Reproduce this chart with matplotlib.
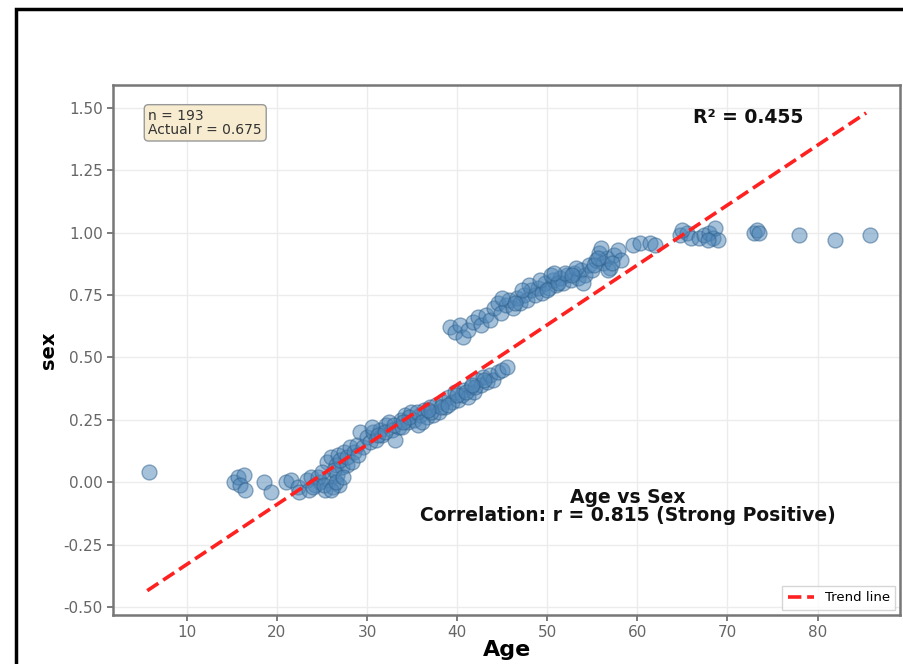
import numpy as np
import matplotlib
matplotlib.use('Agg')
import matplotlib.pyplot as plt
from matplotlib.patches import Rectangle

# ages / sex values
age_low = [5.8, 15.2, 15.7, 16.3, 15.9, 16.4, 18.6, 19.3, 21.0, 21.6, 22.3, 22.5,
           23.3, 23.8, 24.2, 24.8, 25.3, 25.8, 26.2, 26.7, 26.9, 23.6, 24.5, 25.5,
           26.0, 26.5, 27.2, 26.3, 27.8, 25.0, 26.8, 24.0, 25.2, 26.0, 26.6, 27.3]
sex_low = [0.04, 0.00, 0.02, 0.03, -0.01, -0.03, 0.00, -0.04, 0.00, 0.01, -0.02, -0.04,
           0.01, 0.02, -0.01, 0.00, -0.03, 0.01, -0.02, 0.03, -0.01, -0.03, 0.02, 0.08,
           0.10, 0.07, 0.06, 0.05, 0.07, 0.04, 0.11, -0.02, -0.01, -0.03, 0.00, 0.02]

age_mid = [27.0, 27.4, 27.8, 28.1, 28.5, 28.9, 29.2, 29.6, 30.0, 30.3, 30.7, 31.0,
           31.4, 31.7, 32.1, 32.4, 32.8, 33.1, 33.5, 33.8, 34.2, 34.5, 34.9, 35.2,
           35.6, 35.9, 36.3, 36.6, 37.0, 37.3, 37.7, 38.0, 38.4, 38.7, 39.1, 39.4,
           39.8, 40.1, 40.5, 40.8, 41.2, 41.5, 41.9, 42.2, 42.6, 42.9, 43.3, 43.6,
           44.0, 44.5, 45.0, 45.5, 28.3, 29.0, 30.5, 31.2, 32.0, 33.0, 33.9, 34.7,
           35.5, 36.1, 37.1, 38.2, 39.0, 40.0, 41.0, 42.0, 43.0, 34.0, 36.8, 41.7]
sex_mid = [0.09, 0.12, 0.10, 0.14, 0.12, 0.15, 0.20, 0.14, 0.18, 0.16, 0.20, 0.17,
           0.21, 0.19, 0.23, 0.24, 0.21, 0.17, 0.22, 0.25, 0.27, 0.24, 0.28, 0.25,
           0.23, 0.27, 0.29, 0.26, 0.30, 0.27, 0.31, 0.28, 0.32, 0.30, 0.34, 0.32,
           0.36, 0.33, 0.35, 0.37, 0.34, 0.38, 0.36, 0.41, 0.39, 0.42, 0.40, 0.43,
           0.41, 0.44, 0.45, 0.46, 0.08, 0.11, 0.22, 0.19, 0.20, 0.23, 0.22, 0.26,
           0.28, 0.24, 0.28, 0.30, 0.31, 0.35, 0.36, 0.38, 0.41, 0.24, 0.29, 0.39]

age_up = [39.2, 39.8, 40.3, 40.6, 41.2, 41.8, 42.3, 42.7, 43.2, 43.7, 44.1, 44.5,
          44.9, 45.4, 45.8, 46.2, 46.6, 47.0, 47.4, 47.8, 48.2, 48.6, 49.0, 49.4,
          49.8, 50.2, 50.6, 51.0, 51.4, 51.8, 52.2, 52.6, 53.0, 53.4, 53.8, 54.2,
          54.6, 55.0, 55.4, 55.8, 56.2, 56.6, 57.0, 57.4, 57.8, 58.2, 48.0, 49.2,
          50.0, 50.4, 51.2, 52.0, 53.2, 54.0, 55.2, 56.0, 56.8, 45.0, 47.2, 50.8,
          52.8, 55.6, 57.2, 46.4]
sex_up = [0.62, 0.60, 0.63, 0.58, 0.61, 0.64, 0.66, 0.63, 0.67, 0.65, 0.70, 0.72,
          0.68, 0.71, 0.73, 0.70, 0.74, 0.72, 0.75, 0.73, 0.77, 0.75, 0.78, 0.76,
          0.80, 0.78, 0.81, 0.79, 0.82, 0.80, 0.83, 0.81, 0.84, 0.82, 0.85, 0.83,
          0.87, 0.85, 0.89, 0.92, 0.88, 0.90, 0.86, 0.91, 0.93, 0.89, 0.79, 0.81,
          0.77, 0.83, 0.80, 0.84, 0.86, 0.80, 0.87, 0.94, 0.85, 0.74, 0.77, 0.84,
          0.83, 0.90, 0.88, 0.72]

age_high = [59.5, 60.3, 61.4, 62.0, 64.7, 65.5, 66.0, 66.9, 67.4, 68.0, 68.4, 68.6,
            68.9, 73.0, 73.3, 73.5, 78.0, 81.9, 85.8, 67.8, 65.0]
sex_high = [0.95, 0.96, 0.96, 0.95, 0.99, 1.00, 0.98, 0.98, 0.99, 1.00, 0.98, 1.02,
            0.97, 1.00, 1.01, 1.00, 0.99, 0.97, 0.99, 0.97, 1.01]

age = age_low + age_mid + age_up + age_high
sex = sex_low + sex_mid + sex_up + sex_high

# trend line end points
trend_x = [5.6, 85.4]
trend_y = [-0.435, 1.48]

fig = plt.figure(figsize=(9.04, 6.64), dpi=100)
ax = fig.add_axes([0.125, 0.074, 0.871, 0.798])

ax.scatter(age, sex, s=115, color='#4f86b8', alpha=0.5, edgecolor='#2e5f8a', linewidth=1.0, zorder=3)
ax.plot(trend_x, trend_y, linestyle='--', color='#ff2020', lw=2.6, label='Trend line', zorder=4)

ax.set_xlim(1.8, 89.2)
ax.set_ylim(-0.532, 1.592)
ax.set_xticks([10, 20, 30, 40, 50, 60, 70, 80])
ax.set_yticks([-0.5, -0.25, 0, 0.25, 0.5, 0.75, 1.0, 1.25, 1.5])
ax.yaxis.set_major_formatter(matplotlib.ticker.FormatStrFormatter('%.2f'))
ax.grid(True, color='#ececec', lw=1.0, zorder=0)
ax.tick_params(colors='#666666', labelsize=11, length=4, width=1.2)
for sp in ax.spines.values():
    sp.set_color('#777777')
    sp.set_linewidth(1.8)

ax.set_xlabel('Age', fontsize=16, fontweight='bold', labelpad=0)
ax.set_ylabel('sex', fontsize=14, fontweight='bold', labelpad=4)

ax.text(0.045, 0.955, 'n = 193\nActual r = 0.675', transform=ax.transAxes, fontsize=10,
        va='top', ha='left', color='#333333', linespacing=1.0,
        bbox=dict(boxstyle='round,pad=0.3', facecolor='#f7ecd0', edgecolor='#999999'))
ax.text(0.807, 0.938, 'R² = 0.455', transform=ax.transAxes, fontsize=13.5,
        fontweight='bold', ha='center', va='center', color='#111111')
ax.text(0.654, 0.205, 'Age vs Sex\nCorrelation: r = 0.815 (Strong Positive)', transform=ax.transAxes,
        fontsize=13.5, fontweight='bold', ha='center', va='center', color='#111111', linespacing=0.95)
ax.legend(loc='lower right', fontsize=9.5, frameon=True, fancybox=False, edgecolor='#cccccc',
          borderaxespad=0.4)

# black frame around the figure
fig.patches.append(Rectangle((16 / 904, -0.05), 1.1, 1.05 - 9 / 664, transform=fig.transFigure,
                             fill=False, edgecolor='black', lw=2.5))

fig.savefig('out.png', dpi=100)
